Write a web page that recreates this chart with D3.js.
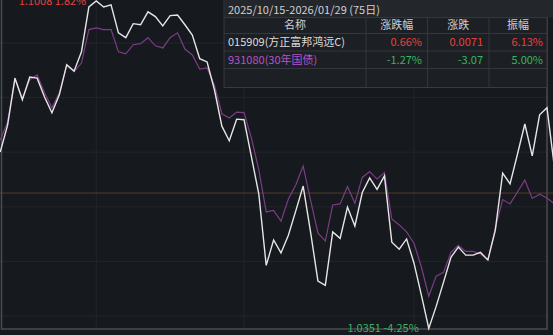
<!DOCTYPE html>
<html>
<head>
<meta charset="utf-8">
<script src="https://cdn.jsdelivr.net/npm/d3@7"></script>
<style>
  html, body { margin: 0; padding: 0; background: #16191d; overflow: hidden; }
  svg { display: block; }
</style>
</head>
<body>
<div id="chart"></div>
<script>
// cumulative change (%) vs. the reference line, one value per trading day
const fundValues = [
  0.76, 1.26, 2.13, 1.73, 2.15, 2.13, 1.78, 1.49, 1.82, 2.38,
  2.26, 2.62, 3.45, 3.56, 3.45, 3.49, 2.97, 2.88, 3.14, 3.12,
  3.36, 3.27, 3.10, 3.29, 3.30, 3.12, 2.93, 2.49, 2.43, 1.91,
  1.24, 0.97, 1.37, 1.36, 0.67, -0.02, -1.34, -0.87, -1.11, -0.78,
  -0.33, 0.13, -0.72, -1.63, -1.71, -0.72, -0.84, -0.26, -0.61, 0.01,
  0.28, 0.07, 0.32, -0.91, -1.04, -0.85, -1.30, -1.89, -2.51, -2.10,
  -1.65, -1.19, -1.00, -1.15, -1.15, -1.10, -1.24, -0.69, 0.37, 0.17,
  0.72, 1.28, 0.69, 1.45, 1.58, 0.48
];
const bondValues = [
  0.98, 1.32, 2.12, 1.76, 2.10, 2.19, 1.86, 1.58, 1.86, 2.36,
  2.25, 2.41, 3.03, 3.06, 3.03, 3.03, 2.62, 2.58, 2.75, 2.77,
  2.88, 2.73, 2.69, 2.88, 2.97, 2.67, 2.56, 2.30, 2.32, 2.00,
  1.47, 1.39, 1.50, 1.49, 1.02, 0.43, -0.35, -0.32, -0.52, -0.11,
  0.15, 0.50, -0.13, -0.74, -0.89, -0.22, -0.20, 0.12, -0.19, 0.29,
  0.40, 0.26, 0.38, -0.48, -0.59, -0.72, -0.93, -1.37, -1.91, -1.54,
  -1.47, -1.10, -0.97, -1.08, -1.08, -1.13, -1.24, -0.65, -0.12, -0.20,
  0.02, 0.24, -0.10, -0.02, -0.09, -0.20
];
const baseValue = 0;
const lastDayIdx = 74;            // 2026/01/29
const monthStartIdx = [13, 33, 56]; // 11/03, 12/01, 01/05

const highLabel = '1.1008 1.82%';
const lowLabel = '1.0351 -4.25%';

const periodTitle = '2025/10/15-2026/01/29 (75日)';
const tableHeader = ['名称', '涨跌幅', '涨跌', '振幅'];
const seriesNames = ['015909(方正富邦鸿远C)', '931080(30年国债)'];
const changePct = ['0.66%', '-1.27%'];
const changeAbs = ['0.0071', '-3.07'];
const amplitude = ['6.13%', '5.00%'];

const W = 553, H = 335;
const RED = '#e8413f', GREEN = '#38b560';
const FONT = '"Noto Sans CJK SC", "Noto Sans", sans-serif';

const svg = d3.select('#chart').append('svg')
  .attr('width', W).attr('height', H);

svg.append('rect').attr('width', W).attr('height', H).attr('fill', '#16191d');

const x = d3.scaleLinear().domain([0, lastDayIdx]).range([0.2, 547]);
const y = d3.scaleLinear()
  .domain([d3.min(fundValues), d3.max(fundValues)])
  .range([328.5, 1]);

// faint grid
const grid = svg.append('g').attr('id', 'grid');
grid.selectAll('line.h')
  .data(d3.range(6).map(i => 43 + i * 54.6))
  .enter().append('line')
    .attr('x1', 0).attr('x2', 547)
    .attr('y1', d => d).attr('y2', d => d)
    .attr('stroke', '#22262c').attr('stroke-width', 1);
grid.selectAll('line.v')
  .data(monthStartIdx)
  .enter().append('line')
    .attr('x1', d => x(d)).attr('x2', d => x(d))
    .attr('y1', 0).attr('y2', 328)
    .attr('stroke', '#22262c').attr('stroke-width', 1);

// reference line
svg.append('line')
  .attr('x1', 0).attr('x2', W)
  .attr('y1', y(baseValue)).attr('y2', y(baseValue))
  .attr('stroke', '#5b3a28').attr('stroke-width', 1);

// frame
svg.append('path')
  .attr('d', 'M1.5,0 V329 H547 V0')
  .attr('fill', 'none')
  .attr('stroke', '#4a4d53').attr('stroke-width', 1.5);

const line = d3.line().x((d, i) => x(i)).y(d => y(d));

svg.append('path')
  .datum(bondValues)
  .attr('d', line)
  .attr('fill', 'none')
  .attr('stroke', '#7b3d86')
  .attr('stroke-width', 1.2)
  .attr('stroke-linejoin', 'miter');

svg.append('path')
  .datum(fundValues)
  .attr('d', line)
  .attr('fill', 'none')
  .attr('stroke', '#e6e6e6')
  .attr('stroke-width', 1.4)
  .attr('stroke-linejoin', 'miter');

// max / min markers
const hiIdx = d3.maxIndex(fundValues), loIdx = d3.minIndex(fundValues);
[[hiIdx, highLabel, RED], [loIdx, lowLabel, GREEN]].forEach(([i, txt, c]) => {
  svg.append('text')
    .attr('x', x(i) - 10)
    .attr('y', y(fundValues[i]))
    .attr('dy', '0.36em')
    .attr('text-anchor', 'end')
    .attr('font-family', FONT)
    .attr('font-size', 11)
    .attr('fill', c)
    .text(txt);
});

// stats panel
const panel = svg.append('g').attr('id', 'panel');
const px0 = 224, px1 = 547;
const rowY = [0, 17.5, 33.5, 51, 68.5, 87.5];
const colX = [px0, 366, 427.5, 489, px1];

panel.append('rect')
  .attr('x', px0).attr('y', 0)
  .attr('width', px1 - px0).attr('height', rowY[5])
  .attr('fill', '#1c1f24')
  .attr('stroke', '#383b41').attr('stroke-width', 1);
panel.append('rect')
  .attr('x', px0 + 0.5).attr('y', 0)
  .attr('width', W - px0).attr('height', rowY[1])
  .attr('fill', '#23262b');

panel.selectAll('line.row')
  .data(rowY.slice(1, 5))
  .enter().append('line')
    .attr('x1', px0).attr('x2', px1)
    .attr('y1', d => d).attr('y2', d => d)
    .attr('stroke', '#34373d').attr('stroke-width', 1);
panel.selectAll('line.col')
  .data(colX.slice(1, 4))
  .enter().append('line')
    .attr('x1', d => d).attr('x2', d => d)
    .attr('y1', rowY[1]).attr('y2', rowY[5])
    .attr('stroke', '#34373d').attr('stroke-width', 1);

const txt = (xx, yy, s, c, anchor) => panel.append('text')
  .attr('x', xx).attr('y', yy).attr('dy', '0.36em')
  .attr('text-anchor', anchor || 'start')
  .attr('font-family', FONT).attr('font-size', 11)
  .attr('fill', c).text(s);

txt(px0 + 4, (rowY[0] + rowY[1]) / 2 + 1, periodTitle, '#cfd0d2');
tableHeader.forEach((h, i) => txt((colX[i] + colX[i + 1]) / 2, (rowY[1] + rowY[2]) / 2, h, '#cfd0d2', 'middle'));

const signColor = s => s.startsWith('-') ? GREEN : RED;
seriesNames.forEach((n, r) => {
  const cy = (rowY[r + 2] + rowY[r + 3]) / 2;
  txt(px0 + 4, cy, n, r === 0 ? '#dcdcdc' : '#b653c6');
  txt(colX[2] - 5.5, cy, changePct[r], signColor(changePct[r]), 'end');
  txt(colX[3] - 6, cy, changeAbs[r], signColor(changeAbs[r]), 'end');
  txt(colX[4] - 4, cy, amplitude[r], r === 0 ? RED : GREEN, 'end');
});
</script>
</body>
</html>
